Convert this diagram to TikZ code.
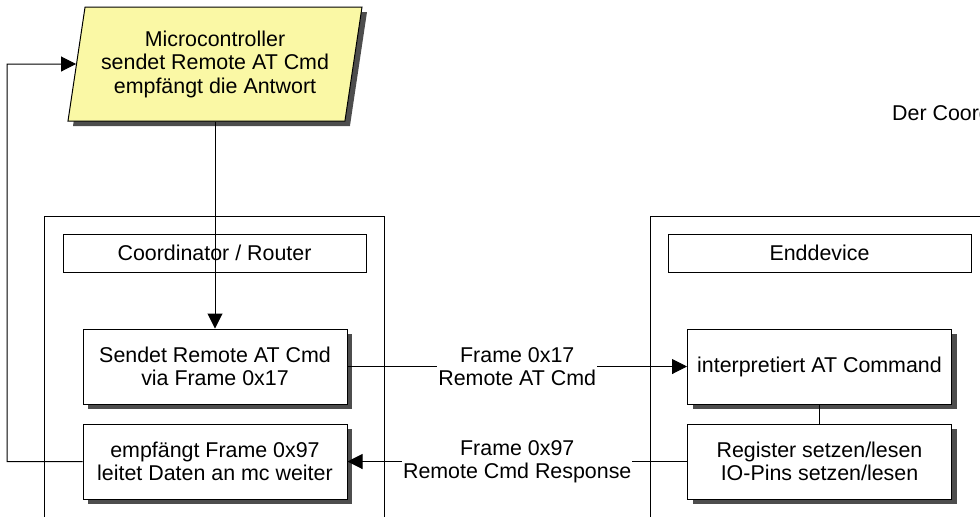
\documentclass[tikz,border=0pt]{standalone}
\usepackage{fontspec}
\setmainfont{Liberation Sans}
\usetikzlibrary{shapes.geometric,arrows.meta,shadows}
\definecolor{mcyellow}{RGB}{250,248,165}
\definecolor{shadowgray}{RGB}{77,77,77}
\tikzstyle{txt}      = [font=\fontsize{10.7}{11.75}\selectfont, align=center]
\tikzstyle{boxshade} = [drop shadow={shadow xshift=2.5pt, shadow yshift=-2.5pt, fill=shadowgray, opacity=1}]
\tikzstyle{io}       = [trapezium, trapezium left angle=75.7, trapezium right angle=104.3, trapezium stretches body, minimum width=147pt, minimum height=57pt, inner sep=0pt, draw=black, fill=mcyellow, txt, boxshade]
\tikzstyle{proc}     = [rectangle, minimum width=132pt, minimum height=37.5pt, draw=black, fill=white, txt, boxshade]
\tikzstyle{head}     = [rectangle, minimum width=151.5pt, minimum height=19pt, draw=black, fill=white, txt]
\tikzstyle{group}    = [rectangle, minimum width=170pt, minimum height=170pt, draw=black]
\tikzstyle{lbl}      = [fill=white, inner sep=0.5pt, txt]
\tikzstyle{arrow}    = [->, >={Triangle[length=7.5pt,width=7.5pt]}]

\begin{document}
\begin{tikzpicture}[x=0.5pt, y=-0.5pt, line width=0.5pt]
	\useasboundingbox (0,0) rectangle (980,516);
	\clip (0,0) rectangle (980,516);

	% the two devices
	\node[group] (coord) at (214.5,386) {};
	\node[group] (endd) at (820,386) {};
	\node[head] (coordhead) at (214.5,253) {Coordinator / Router};
	\node[head] (enddhead) at (819.5,253) {Enddevice};

	\node[io] (mc) at (215,64) {Microcontroller\\sendet Remote AT Cmd\\empfängt die Antwort};
	\node[proc] (sendet) at (215,366.5) {Sendet Remote AT Cmd\\via Frame 0x17};
	\node[proc] (empf) at (215,461.5) {empfängt Frame 0x97\\leitet Daten an mc weiter};
	\node[proc] (interp) at (819.5,366.5) {interpretiert AT Command};
	\node[proc] (reg) at (819.5,461.5) {Register setzen/lesen\\IO-Pins setzen/lesen};
	\node[txt, anchor=west] (note) at (885,113) {Der Coord};
	\coordinate (back) at (7,64);

	% connections
	\draw[arrow] (mc.south -| sendet.north) -- (sendet.north);
	\draw[arrow] (sendet.east) -- node[lbl] {Frame 0x17\\Remote AT Cmd} (interp.west);
	\draw (interp.south) -- (reg.north);
	\draw[arrow] (reg.west) -- node[lbl] {Frame 0x97\\Remote Cmd Response} (empf.east);
	\draw[arrow] (empf.west) -| (back) -- (mc.west);
\end{tikzpicture}
\end{document}
